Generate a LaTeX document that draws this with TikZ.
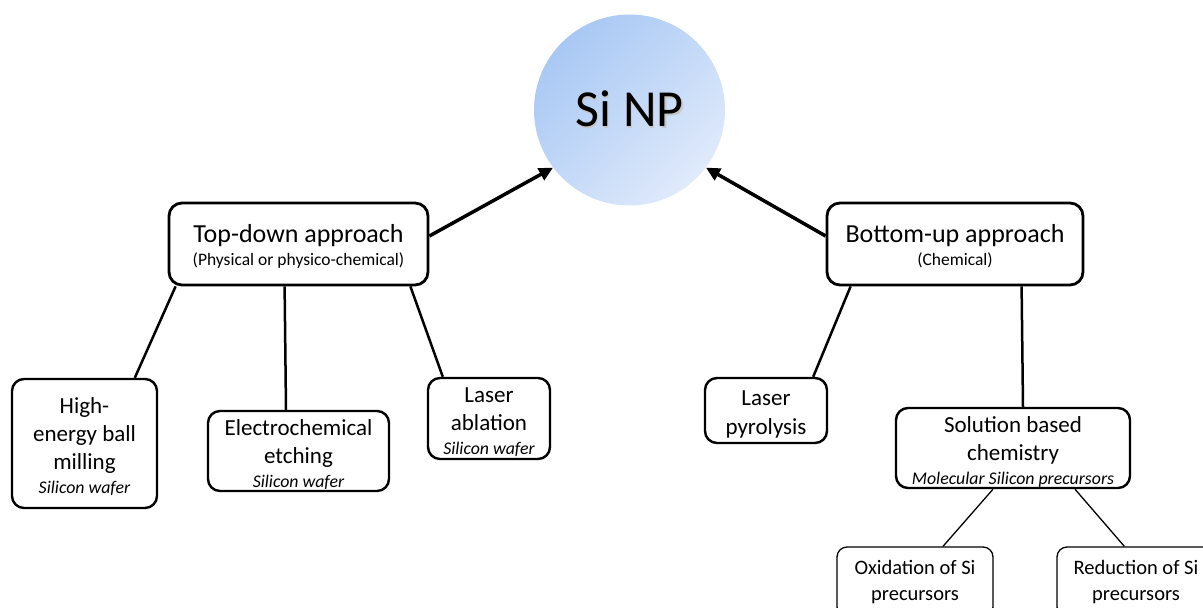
\documentclass[tikz,border=0pt]{standalone}
\usepackage{fontspec}
\setmainfont{Carlito}
\usetikzlibrary{arrows.meta,calc}
\definecolor{npdark}{RGB}{168,200,244}
\definecolor{nplight}{RGB}{224,234,251}
\newcommand\subit[1]{{\fontsize{17.8}{20}\selectfont\itshape #1}}
\newcommand\tstrut{\rule{0pt}{23pt}}
\begin{document}
\begin{tikzpicture}[x=1pt,y=-1pt,
  big/.style={draw, line width=2.8pt, rounded corners=13pt, fill=white, align=center, inner sep=0pt},
  small/.style={draw, line width=2.4pt, rounded corners=12pt, fill=white, align=center, inner sep=0pt, font=\fontsize{23}{28}\selectfont},
  leaf/.style={draw, line width=1.3pt, rounded corners=10pt, fill=white, align=center, inner sep=0pt, font=\fontsize{20.5}{26}\selectfont},
  link/.style={line width=2.5pt},
  thinlink/.style={line width=1.3pt},
  arr/.style={line width=3.5pt, -{Triangle[length=14pt,width=13pt]}}
]
\useasboundingbox (0,0) rectangle (1203,608);

\node[circle, minimum size=191pt, inner sep=0pt, top color=npdark, bottom color=nplight, shading angle=45, font=\fontsize{52}{60}\selectfont] (np) at (629.5,110)
  {\rlap{\kern1.5pt\raisebox{-1.5pt}{\color{black!22}Si NP}}Si NP};

\node[big, minimum width=259pt, minimum height=82pt] (td) at (298.5,244)
  {\fontsize{26}{28}\selectfont\rule{0pt}{22pt}Top-down approach\\[5pt]{\fontsize{17.5}{19}\selectfont (Physical or physico-chemical)}};
\node[big, minimum width=256pt, minimum height=82pt] (bu) at (955,244)
  {\fontsize{26}{28}\selectfont\rule{0pt}{22pt}Bottom-up approach\\[5pt]{\fontsize{17.5}{19}\selectfont (Chemical)}};

\node[small, minimum width=145pt, minimum height=129pt] (hb) at (84.5,443.5)
  {\tstrut High-\\energy ball\\milling\\[-4pt]\subit{Silicon wafer}};
\node[small, minimum width=181pt, minimum height=80pt] (ec) at (298.5,451)
  {\tstrut Electrochemical\\etching\\[-4pt]\subit{Silicon wafer}};
\node[small, minimum width=122pt, minimum height=81pt] (la) at (489,418.5)
  {\tstrut Laser\\ablation\\[-4pt]\subit{Silicon wafer}};
\node[small, minimum width=122pt, minimum height=65pt] (lp) at (766,410.5)
  {\tstrut Laser\\[1pt]pyrolysis};
\node[small, minimum width=234pt, minimum height=80pt] (sb) at (1013,448)
  {\tstrut Solution based\\chemistry\\[-4pt]\subit{Molecular Silicon precursors}};

\node[leaf, minimum width=156pt, minimum height=70pt] (ox) at (915,582)
  {Oxidation of Si\\precursors};
\node[leaf, minimum width=158pt, minimum height=70pt] (rd) at (1136,582)
  {Reduction of Si\\precursors};

\draw[arr] ([yshift=8pt]td.east) -- (np.217);
\draw[arr] ([yshift=8pt]bu.west) -- (np.323);

\draw[link] ([xshift=8pt]td.south west) -- ([xshift=124pt]hb.north west);
\draw[link] ([xshift=117pt]td.south west) -- ([xshift=-12.5pt]ec.north);
\draw[link] ([xshift=-19pt]td.south east) -- ([xshift=16pt]la.north west);
\draw[link] ([xshift=25pt]bu.south west) -- ([xshift=-15pt]lp.north east);
\draw[link] ([xshift=196pt]bu.south west) -- ([xshift=10pt]sb.north);
\draw[thinlink] ([xshift=-20pt]sb.south) -- ([xshift=28pt]ox.north);
\draw[thinlink] ([xshift=62pt]sb.south) -- ([xshift=68pt]rd.north west);
\end{tikzpicture}
\end{document}
